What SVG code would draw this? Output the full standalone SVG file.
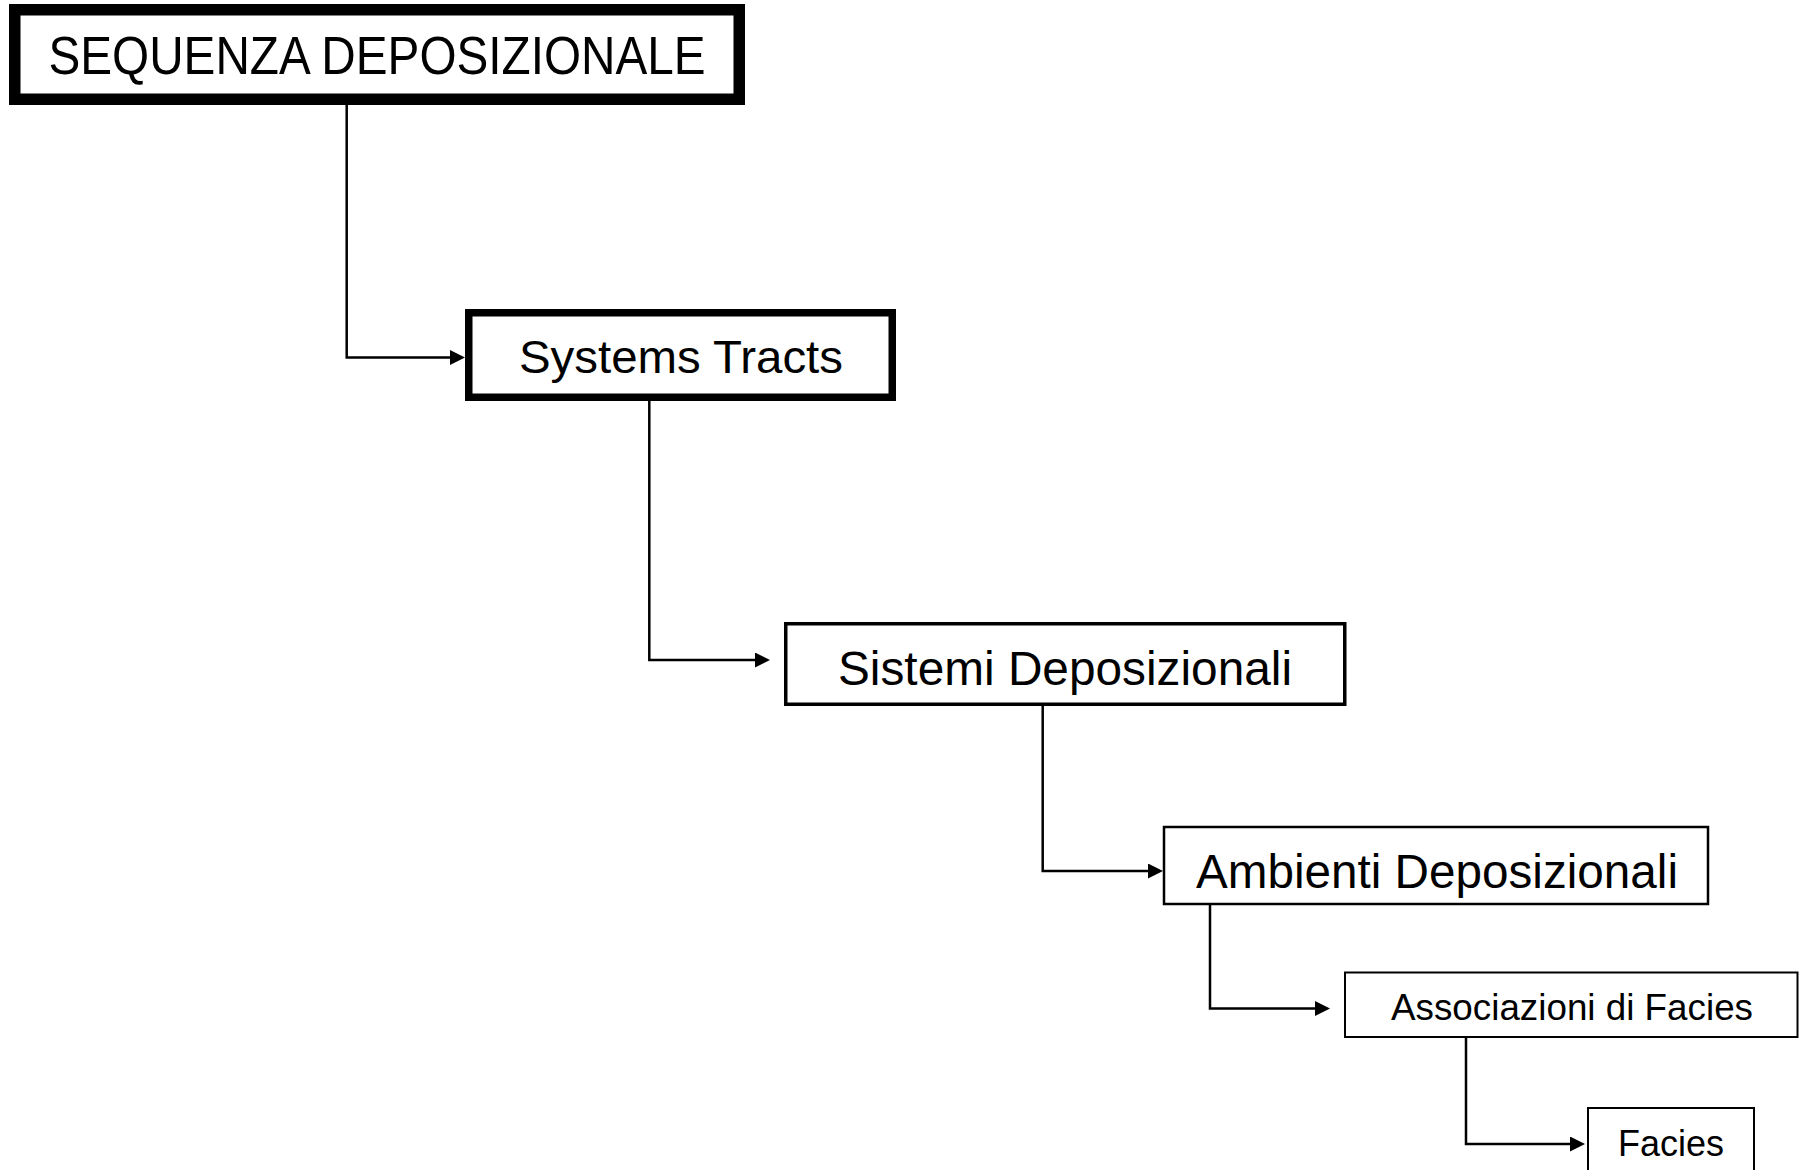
<svg xmlns="http://www.w3.org/2000/svg" width="1803" height="1170" viewBox="0 0 1803 1170">
<style>
.box{fill:#fff;stroke:#000}
.lbl{font-family:"Liberation Sans",Arial,Helvetica,sans-serif;fill:#000;text-anchor:middle}
.conn{fill:none;stroke:#000;stroke-width:2.5}
</style>
<defs>
<marker id="arr" markerWidth="15" markerHeight="15" refX="10" refY="7.5" orient="auto" markerUnits="userSpaceOnUse">
<path d="M0,0 L15,7.5 L0,15 z" fill="#000"/>
</marker>
</defs>
<rect width="1803" height="1170" fill="#fff"/>
<g id="connectors">
<path class="conn" d="M346.7,105 V357.5 H460" marker-end="url(#arr)"/>
<path class="conn" d="M649.3,401 V660 H765" marker-end="url(#arr)"/>
<path class="conn" d="M1042.7,706 V871 H1158" marker-end="url(#arr)"/>
<path class="conn" d="M1210,905 V1008.5 H1325" marker-end="url(#arr)"/>
<path class="conn" d="M1466,1038 V1144 H1580" marker-end="url(#arr)"/>
</g>
<g id="n1">
<rect class="box" x="14.75" y="9.75" width="724.5" height="89.5" stroke-width="11.5"/>
<text class="lbl" x="377" y="74" font-size="53" textLength="657" lengthAdjust="spacingAndGlyphs">SEQUENZA DEPOSIZIONALE</text>
</g>
<g id="n2">
<rect class="box" x="468.75" y="312.75" width="423.5" height="84.5" stroke-width="7.5"/>
<text class="lbl" x="681" y="373" font-size="47" textLength="324" lengthAdjust="spacingAndGlyphs">Systems Tracts</text>
</g>
<g id="n3">
<rect class="box" x="785.75" y="623.75" width="559" height="80.5" stroke-width="3.5"/>
<text class="lbl" x="1065" y="685" font-size="48" textLength="454" lengthAdjust="spacingAndGlyphs">Sistemi Deposizionali</text>
</g>
<g id="n4">
<rect class="box" x="1164" y="827" width="544" height="77" stroke-width="2.5"/>
<text class="lbl" x="1437" y="888" font-size="48" textLength="482" lengthAdjust="spacingAndGlyphs">Ambienti Deposizionali</text>
</g>
<g id="n5">
<rect class="box" x="1345" y="972.5" width="452.5" height="64.5" stroke-width="2"/>
<text class="lbl" x="1572" y="1020" font-size="37" textLength="362" lengthAdjust="spacingAndGlyphs">Associazioni di Facies</text>
</g>
<g id="n6">
<rect class="box" x="1588" y="1108" width="166" height="70" stroke-width="2"/>
<text class="lbl" x="1671" y="1156" font-size="37" textLength="106" lengthAdjust="spacingAndGlyphs">Facies</text>
</g>
</svg>
